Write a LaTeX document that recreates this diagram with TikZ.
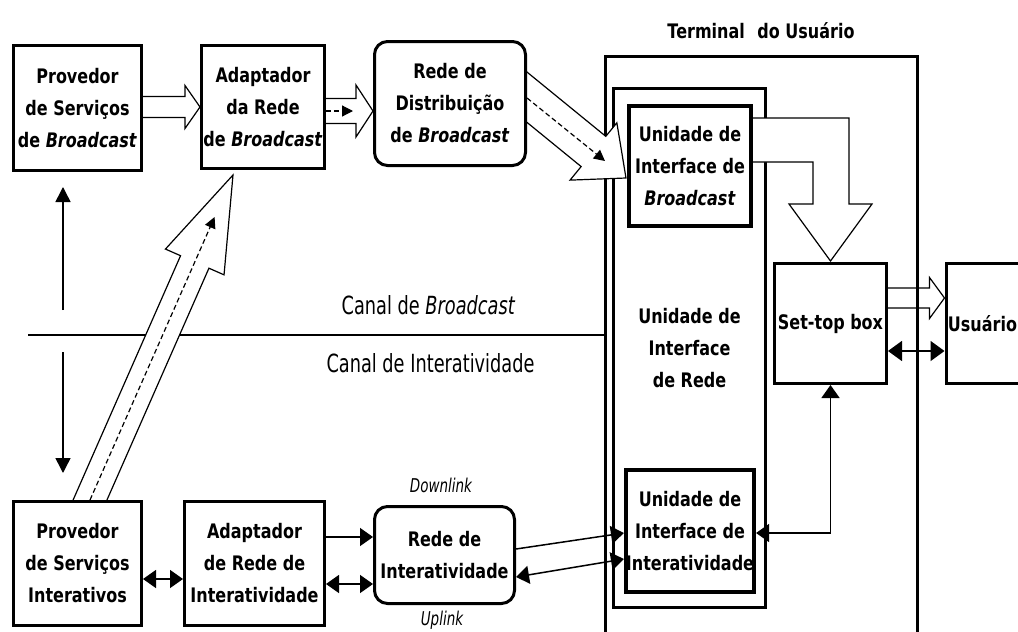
\documentclass[tikz,border=0pt]{standalone}
\usepackage{fontspec}
\setmainfont{DejaVu Sans}[FakeStretch=0.8]
\newfontfamily\canalfont{DejaVu Sans}[FakeStretch=0.71]
\usetikzlibrary{calc,arrows.meta}
\pgfdeclarelayer{lzero}
\pgfdeclarelayer{lone}
\pgfdeclarelayer{ltwo}
\pgfsetlayers{lzero,lone,ltwo,main}
\tikzset{
  box/.style={draw, line width=3pt, fill=white, align=center, inner sep=0pt, font=\fontsize{20}{32}\selectfont\bfseries},
  rbox/.style={box, rounded corners=13pt},
  ubox/.style={box, line width=4pt},
  frame/.style={draw, line width=3pt, inner sep=0pt},
  hollow/.style={draw, line width=1.2pt, fill=white, line join=miter},
  conn/.style={line width=1.5pt},
  tip/.style={-{Triangle[length=13pt,width=18pt]}},
  dtip/.style={{Triangle[length=13pt,width=18pt]}-{Triangle[length=13pt,width=18pt]}},
  vtip/.style={-{Triangle[length=15pt,width=15pt]}},
  innerd/.style={line width=1.2pt, dash pattern=on 5pt off 3pt, -{Triangle[length=11pt,width=11pt]}},
  canal/.style={font=\canalfont\fontsize{25}{30}\selectfont, inner sep=0pt, anchor=base},
  linklbl/.style={font=\canalfont\fontsize{19}{24}\selectfont\itshape, inner sep=0pt, anchor=base},
}
\newcommand{\hollowarr}[5]{%
  \coordinate (hA) at #1; \coordinate (hB) at #2;
  \coordinate (hC) at ($(hB)!#5!(hA)$);
  \draw[hollow] ($(hA)!#3!90:(hB)$) -- ($(hC)!#3!-90:(hA)$) -- ($(hC)!#4!-90:(hA)$) -- (hB) -- ($(hC)!#4!90:(hA)$) -- ($(hC)!#3!90:(hA)$) -- ($(hA)!#3!-90:(hB)$);
}
\begin{document}
\begin{tikzpicture}[x=1pt,y=-1pt]
\useasboundingbox (0,0) rectangle (1018,632);
% ---------- main boxes ----------
\node[box, minimum width=128pt, minimum height=125pt] (pb) at (77.5,108) {Provedor\\de Serviços\\de \textit{Broadcast}};
\node[box, minimum width=123pt, minimum height=123pt] (ab) at (263,107) {Adaptador\\da Rede\\de \textit{Broadcast}};
\node[rbox, minimum width=151pt, minimum height=124pt] (rd) at (450,103.5) {Rede de\\Distribuição\\de \textit{Broadcast}};
\node[box, minimum width=128pt, minimum height=124pt] (pi) at (77.5,563.5) {Provedor\\de Serviços\\Interativos};
\node[box, minimum width=140pt, minimum height=124pt] (ai) at (254.5,563.5) {Adaptador\\de Rede de\\Interatividade};
\node[rbox, minimum width=140pt, minimum height=97pt] (ri) at (444.5,555) {Rede de\\Interatividade};
\node[ubox, minimum width=122pt, minimum height=120pt] (ub) at (690,166) {Unidade de\\Interface de\\\textit{Broadcast}};
\node[ubox, minimum width=122pt, minimum height=122pt] (ui) at (690,531) {Unidade de\\Interface de\\Interatividade};
\node[box, minimum width=112pt, minimum height=120pt] (stb) at (830.5,323.5) {Set-top box};
\node[box, minimum width=73pt, minimum height=120pt] (usr) at (982.5,323.5) {Usuário};
% ---------- terminal frames ----------
\begin{pgfonlayer}{lone}
\node[frame, minimum width=312pt, minimum height=620pt, anchor=north west] (term) at (603.5,54.5) {};
\node[frame, fill=white, minimum width=152pt, minimum height=519pt, align=center, font=\fontsize{20}{32}\selectfont\bfseries] (unr) at (689.5,348) {Unidade de\\Interface\\de Rede};
\coordinate (cl) at (28,335);
\draw[line width=2pt] (cl) -- (cl -| term.west);
\end{pgfonlayer}
\node[font=\fontsize{20}{24}\selectfont\bfseries, anchor=base, inner sep=0pt] (ttl) at (761,38) {Terminal\hspace{0.35em} do Usuário};
% ---------- channel labels ----------
\node[canal] (cb) at (428.5,314) {Canal de \textit{Broadcast}};
\node[canal] (ci) at (430.5,372) {Canal de Interatividade};
\node[linklbl] (dl) at (441,492) {Downlink};
\node[linklbl] (ul) at (442,625) {Uplink};
% ---------- hollow arrows ----------
\begin{pgfonlayer}{lzero}
\hollowarr{($(stb.east)+(-18,-25.5)$)}{($(usr.west)+(0,-25.5)$)}{10pt}{20.5pt}{15pt}
\end{pgfonlayer}
\begin{pgfonlayer}{ltwo}
\hollowarr{($(pb.east)+(-15,-1)$)}{(ab.west)}{10.5pt}{21.5pt}{15pt}
\hollowarr{($(ab.east)+(-16,4)$)}{($(rd.west)+(0,7.5)$)}{12.5pt}{26pt}{17pt}
\draw[innerd] ($(ab.east)+(0,4)$) -- ($(rd.west)+(-20,7.5)$);
\hollowarr{(512.5,85.4)}{($(ub.west)+(-1,12)$)}{19.5pt}{37pt}{42pt}
\draw[innerd] ($(rd.east)+(0,-5.5)$) -- ($(ub.west)+(-22,-5)$);
\hollowarr{(84,513.7)}{($(ab.south)+(-30,5)$)}{15.5pt}{32pt}{95pt}
\draw[innerd] ($(pi.north)+(12.5,0)$) -- ($(ab.south)+(-48.4,47)$);
\draw[hollow] ($(ub.east)+(-2,-48)$) -- (849,118) -- (849,204) -- (872,204) -- ($(stb.north)+(0,-1)$) -- (789,204) -- (813,204) -- (813,162) -- ($(ub.east)+(-2,-4)$);
\end{pgfonlayer}
% ---------- thin connectors ----------
\coordinate (va1) at (63,310);
\coordinate (va2) at (63,187);
\coordinate (vb1) at (63,352);
\coordinate (vb2) at (63,473);
\draw[conn, vtip] (va1) -- (va2);
\draw[conn, vtip] (vb1) -- (vb2);
\draw[conn, dtip] ($(pi.east)+(0,15.5)$) -- ($(ai.west)+(0,15.5)$);
\draw[conn, tip] ($(ai.east)+(0,-26.5)$) -- ($(ri.west)+(0,-18)$);
\draw[conn, dtip] ($(ai.east)+(0,20.5)$) -- ($(ri.west)+(0,29)$);
\draw[conn, tip] ($(ri.east)+(0,-6)$) -- ($(ui.west)+(0,2)$);
\draw[conn, dtip] ($(ri.east)+(0,22)$) -- ($(ui.west)+(0,28)$);
\draw[conn, dtip] ($(ui.east)+(0,2)$) -| (stb.south);
\draw[conn, {Triangle[length=14pt,width=20pt]}-{Triangle[length=14pt,width=20pt]}] ($(stb.east)+(0,27.5)$) -- ($(usr.west)+(0,27.5)$);
\end{tikzpicture}
\end{document}
